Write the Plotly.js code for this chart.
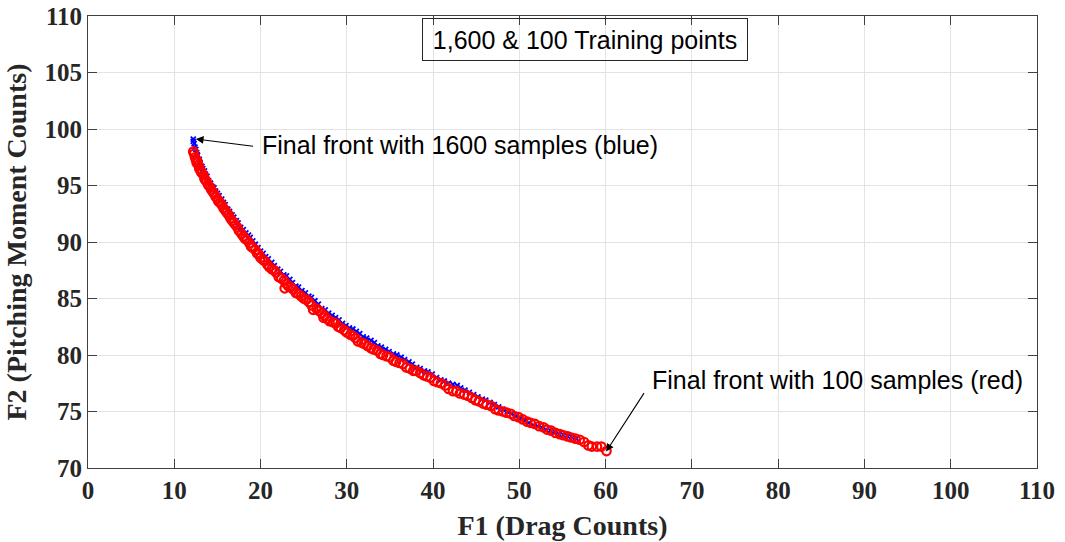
<!DOCTYPE html>
<html>
<head>
<meta charset="utf-8">
<script src="https://cdn.plot.ly/plotly-3.0.1.min.js"></script>
<style>html,body{margin:0;padding:0;background:#fff;}#chart{width:1065px;height:542px;}</style>
</head>
<body>
<div id="chart"></div>
<script>
// Blue: final front with 1600 samples
var blueF1 = [12.2, 12.3, 12.5, 12.7, 13.0, 13.3, 13.6, 14.0, 14.4, 14.8, 15.2, 15.7, 16.2, 16.7, 17.2, 17.7, 18.3, 18.8, 19.4, 20.0, 20.6, 21.3, 22.0, 22.7, 23.4, 24.1, 24.8, 25.6, 26.3, 27.1, 27.9, 28.7, 29.5, 30.3, 31.1, 31.9, 32.8, 33.6, 34.5, 35.4, 36.3, 37.2, 38.1, 39.0, 39.9, 40.9, 41.8, 42.8, 43.7, 44.7, 45.7, 46.6, 47.6, 48.6, 49.6, 50.6, 51.6, 52.6, 53.6, 54.6, 55.6, 56.6,
              12.2, 12.4, 12.6, 12.9, 13.2, 13.5, 13.8, 14.2, 14.6, 15.0, 15.5, 15.9, 16.4, 16.9, 17.4, 18.0, 18.6, 19.1, 19.7, 20.3, 20.9, 21.6, 22.3, 23.0, 23.7, 24.4, 25.2, 25.9, 26.7, 27.5, 28.3, 29.1, 29.9, 30.7, 31.5, 32.3, 33.2, 34.0, 34.9, 35.8, 36.7, 37.6, 38.5, 39.4, 40.4, 41.3, 42.3, 43.2, 44.2, 45.2, 46.1, 47.1, 48.1, 49.1, 50.1, 51.1, 52.1, 53.1, 54.1, 55.1, 56.1];
var blueF2 = [99.1, 98.7, 98.2, 97.7, 97.0, 96.5, 96.0, 95.4, 94.9, 94.5, 94.1, 93.5, 92.9, 92.4, 91.9, 91.3, 90.8, 90.4, 89.8, 89.2, 88.7, 88.2, 87.6, 87.1, 86.7, 86.1, 85.7, 85.2, 84.8, 84.1, 83.7, 83.3, 82.8, 82.4, 82.1, 81.6, 81.3, 80.8, 80.5, 80.1, 79.8, 79.4, 78.9, 78.6, 78.3, 77.8, 77.5, 77.3, 76.9, 76.5, 76.1, 75.8, 75.4, 75.0, 74.6, 74.2, 73.8, 73.6, 73.3, 73.0, 72.8, 72.6,
              98.9, 98.4, 97.9, 97.3, 96.7, 96.3, 95.8, 95.2, 94.8, 94.3, 93.8, 93.3, 92.7, 92.2, 91.7, 91.1, 90.6, 90.1, 89.5, 89.0, 88.5, 87.9, 87.4, 87.0, 86.4, 86.0, 85.5, 85.1, 84.5, 84.0, 83.5, 83.1, 82.6, 82.3, 81.9, 81.5, 81.1, 80.7, 80.3, 80.0, 79.6, 79.2, 78.8, 78.5, 78.0, 77.7, 77.4, 77.1, 76.7, 76.3, 76.0, 75.6, 75.2, 74.8, 74.4, 74.0, 73.7, 73.4, 73.2, 72.9, 72.7];

// Red: final front with 100 samples
var redF1 = [12.2, 12.4, 12.6, 12.8, 13.0, 13.2, 13.5, 13.7, 14.0, 14.3, 14.6, 15.0, 15.3, 15.7, 16.1, 16.5, 16.9, 17.3, 17.8, 18.2, 18.7, 19.1, 19.6, 20.0, 20.5, 21.0, 21.6, 22.1, 22.7, 22.8, 23.2, 23.8, 24.4, 25.0, 25.6, 26.1, 26.8, 27.3, 27.4, 28.0, 28.7, 29.3, 30.0, 30.7, 31.3, 32.0, 32.8, 33.5, 34.2, 35.0, 35.7, 36.5, 37.3, 38.0, 38.9, 39.7, 40.5, 41.4, 42.3, 43.1, 44.0, 44.9, 45.8, 46.7, 47.6, 48.5, 49.4, 50.4, 51.3, 52.3, 53.2, 54.2, 55.1, 56.0, 57.0, 58.0, 59.0, 60.1,
             12.3, 12.5, 12.7, 12.9, 13.1, 13.4, 13.6, 13.9, 14.2, 14.5, 14.8, 15.1, 15.5, 15.9, 16.3, 16.7, 17.1, 17.5, 18.0, 18.4, 18.9, 19.4, 19.8, 20.3, 20.8, 21.3, 21.8, 22.4, 23.0, 23.5, 24.1, 24.7, 25.3, 25.9, 26.5, 27.1, 27.7, 28.4, 29.0, 29.7, 30.4, 31.0, 31.7, 32.4, 33.1, 33.9, 34.6, 35.4, 36.1, 36.9, 37.7, 38.5, 39.3, 40.1, 40.9, 41.8, 42.7, 43.6, 44.5, 45.3, 46.2, 47.2, 48.1, 49.0, 49.9, 50.9, 51.8, 52.8, 53.7, 54.7, 55.6, 56.5, 57.5, 58.4, 59.5];
var redF2 = [98.0, 97.5, 97.0, 96.8, 96.4, 96.1, 95.6, 95.4, 95.0, 94.6, 94.3, 93.8, 93.5, 93.0, 92.6, 92.1, 91.7, 91.3, 90.7, 90.3, 89.9, 89.5, 89.0, 88.6, 88.3, 87.8, 87.5, 86.9, 86.6, 85.9, 86.1, 85.8, 85.4, 85.0, 84.7, 84.0, 83.9, 83.3, 83.5, 83.0, 82.8, 82.4, 82.0, 81.7, 81.2, 81.0, 80.6, 80.4, 80.0, 79.8, 79.4, 79.2, 78.8, 78.6, 78.2, 78.0, 77.6, 77.3, 76.8, 76.6, 76.4, 76.0, 75.7, 75.5, 75.1, 74.9, 74.6, 74.3, 74.0, 73.7, 73.4, 73.1, 72.9, 72.7, 72.5, 72.0, 71.9, 71.5,
             97.8, 97.3, 97.1, 96.5, 96.2, 95.9, 95.5, 95.1, 94.8, 94.4, 94.0, 93.6, 93.3, 92.8, 92.4, 91.9, 91.5, 91.0, 90.5, 90.2, 89.6, 89.3, 88.9, 88.4, 88.0, 87.6, 87.3, 86.8, 86.3, 86.0, 85.5, 85.2, 84.9, 84.4, 84.1, 83.7, 83.2, 82.9, 82.5, 82.2, 81.8, 81.5, 81.1, 80.8, 80.5, 80.1, 79.9, 79.5, 79.3, 78.9, 78.6, 78.4, 78.1, 77.7, 77.5, 77.0, 76.8, 76.5, 76.2, 75.9, 75.6, 75.2, 75.0, 74.8, 74.5, 74.1, 73.9, 73.6, 73.3, 73.0, 72.8, 72.6, 72.3, 71.9, 71.9];

var xTicks = [0, 10, 20, 30, 40, 50, 60, 70, 80, 90, 100, 110];
var yTicks = [70, 75, 80, 85, 90, 95, 100, 105, 110];

var boxTitle = '1,600 & 100 Training points';
var blueNote = 'Final front with 1600 samples (blue)';
var redNote = 'Final front with 100 samples (red)';

var axisColor = '#404040';
var serifBold = {family: '"Liberation Serif", "Times New Roman", serif', size: 25, color: '#262626', weight: 'bold'};
var titleFont = {family: '"Liberation Serif", "Times New Roman", serif', size: 28, color: '#262626', weight: 'bold'};
var sansFont = {family: '"Liberation Sans", Arial, sans-serif', size: 25, color: '#000'};

var traces = [
  {x: blueF1, y: blueF2, type: 'scatter', mode: 'markers', name: '1600',
   marker: {symbol: 'x-thin', size: 5, color: '#0000ff', line: {color: '#0000ff', width: 1.8}}},
  {x: redF1, y: redF2, type: 'scatter', mode: 'markers', name: '100',
   marker: {symbol: 'circle-open', size: 8.5, color: '#ff0000', line: {color: '#ff0000', width: 2.2}}}
];

var layout = {
  width: 1065, height: 542,
  margin: {l: 88, r: 28, t: 16, b: 74},
  paper_bgcolor: '#fff', plot_bgcolor: '#fff',
  showlegend: false,
  xaxis: {
    range: [0, 110], tickvals: xTicks, ticktext: xTicks.map(String),
    showgrid: true, gridcolor: '#e3e3e3', zeroline: false,
    showline: true, linecolor: axisColor, linewidth: 1, mirror: 'ticks',
    ticks: 'inside', ticklen: 9, tickcolor: axisColor, tickwidth: 1,
    tickfont: serifBold, ticklabelstandoff: 0,
    title: {text: 'F1 (Drag Counts)', font: titleFont, standoff: 12}
  },
  yaxis: {
    range: [70, 110], tickvals: yTicks, ticktext: yTicks.map(String),
    showgrid: true, gridcolor: '#e3e3e3', zeroline: false,
    showline: true, linecolor: axisColor, linewidth: 1, mirror: 'ticks',
    ticks: 'inside', ticklen: 9, tickcolor: axisColor, tickwidth: 1,
    tickfont: serifBold, ticklabelstandoff: 0,
    title: {text: 'F2 (Pitching Moment Counts)', font: titleFont, standoff: 9}
  },
  annotations: [
    {xref: 'paper', yref: 'paper', x: 0.5237, y: 0.948, xanchor: 'center', yanchor: 'middle',
     text: boxTitle, showarrow: false, font: sansFont,
     bordercolor: '#262626', borderwidth: 1, borderpad: 2, width: 320, height: 37},
    {xref: 'x', yref: 'y', x: 19.94, y: 98.55, xanchor: 'left', yanchor: 'middle',
     text: blueNote, showarrow: false, font: sansFont},
    {xref: 'x', yref: 'y', x: 12.5, y: 99.12, axref: 'x', ayref: 'y', ax: 19.3, ay: 98.45,
     text: ' ', font: {size: 1}, showarrow: true, arrowhead: 2, arrowsize: 1.4, arrowwidth: 1.1, arrowcolor: '#000'},
    {xref: 'x', yref: 'y', x: 65.15, y: 77.75, xanchor: 'left', yanchor: 'middle',
     text: redNote, showarrow: false, font: sansFont},
    {xref: 'x', yref: 'y', x: 60.05, y: 71.45, axref: 'x', ayref: 'y', ax: 64.6, ay: 76.8,
     text: ' ', font: {size: 1}, showarrow: true, arrowhead: 2, arrowsize: 1.4, arrowwidth: 1.1, arrowcolor: '#000'}
  ]
};

Plotly.newPlot('chart', traces, layout, {displayModeBar: false, staticPlot: true});
</script>
</body>
</html>
